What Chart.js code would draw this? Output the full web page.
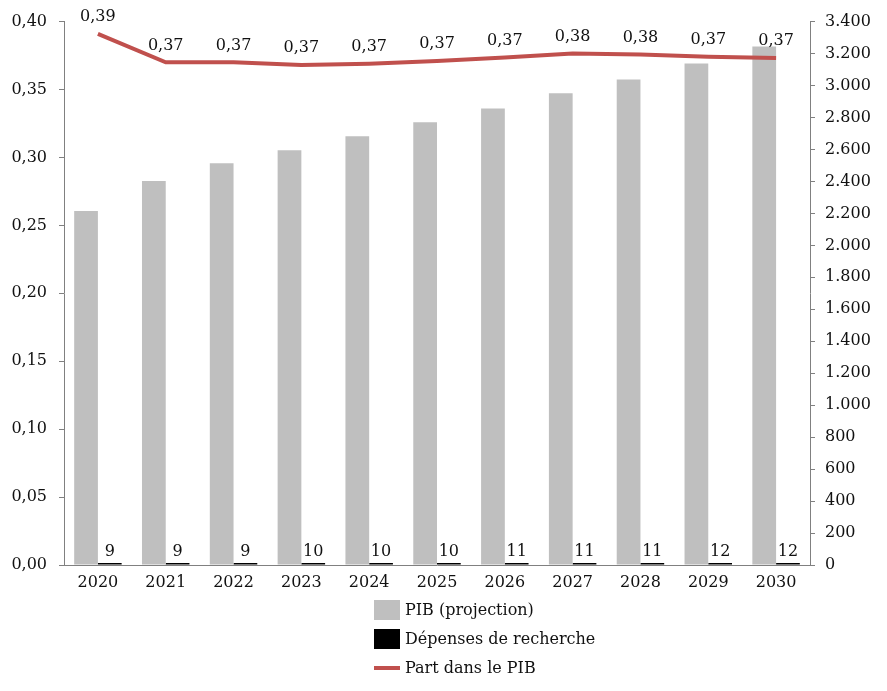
<!DOCTYPE html>
<html>
<head>
<meta charset="utf-8">
<script src="https://cdn.jsdelivr.net/npm/chart.js@4"></script>
<style>
  body { margin:0; background:#fff; }
  #wrap { position:relative; width:887px; height:691px; }
  .leg { position:absolute; left:374px; font-family:"DejaVu Serif", serif; font-size:16px; color:#111; height:20px; line-height:20px; }
  .leg span.box { position:absolute; left:0; top:0; width:26px; height:20px; }
  .leg span.txt { position:absolute; left:31px; top:0; white-space:nowrap; }
</style>
</head>
<body>
<div id="wrap">
  <canvas id="myChart" width="887" height="691"></canvas>
  <div class="leg" style="top:600px"><span class="box" style="background:#bfbfbf"></span><span class="txt">PIB (projection)</span></div>
  <div class="leg" style="top:629px"><span class="box" style="background:#000"></span><span class="txt">Dépenses de recherche</span></div>
  <div class="leg" style="top:658px"><span class="box" style="top:8px;height:4px;background:#c0504d"></span><span class="txt">Part dans le PIB</span></div>
</div>
<script>
// data
const years=['2020','2021','2022','2023','2024','2025','2026','2027','2028','2029','2030'];
const pib=[2215,2402,2514,2595,2683,2770,2857,2951,3038,3138,3244];
const recherche=[9,9,9,10,10,10,11,11,11,12,12];
const part=[0.391,0.370,0.370,0.368,0.369,0.371,0.3735,0.3765,0.3758,0.3742,0.3732];

const fontFam='"DejaVu Serif", serif';

// number formats
function fr2(v){ return v.toFixed(2).replace('.',','); }
function thousands(v){ return String(v).replace(/\B(?=(\d{3})+(?!\d))/g,'.'); }

// labels above black bars and the line
const labelPlugin={
  id:'labels',
  afterDatasetsDraw(chart){
    const ctx=chart.ctx;
    ctx.save();
    ctx.font='16px '+fontFam;
    ctx.fillStyle='#111';
    ctx.textAlign='center';
    ctx.textBaseline='bottom';
    chart.getDatasetMeta(1).data.forEach((el,i)=>{
      ctx.fillText(recherche[i],el.x,el.y-3);
    });
    chart.getDatasetMeta(2).data.forEach((el,i)=>{
      ctx.fillText(fr2(part[i]),el.x,el.y-9);
    });
    ctx.restore();
  }
};

const axisColor='#808080';
var ctx=document.getElementById('myChart').getContext('2d');
var chart=new Chart(ctx,{
  type:'bar',
  data:{
    labels:years,
    datasets:[
      {label:'PIB (projection)',data:pib,backgroundColor:'#bfbfbf',yAxisID:'y1',order:1,categoryPercentage:0.7,barPercentage:1.0},
      {label:'Dépenses de recherche',data:recherche,backgroundColor:'#000',yAxisID:'y1',order:2,categoryPercentage:0.7,barPercentage:1.0,minBarLength:2},
      {label:'Part dans le PIB',type:'line',data:part,borderColor:'#c0504d',borderWidth:4,pointRadius:0,tension:0,yAxisID:'y',order:0}
    ]
  },
  options:{
    responsive:false,
    animation:false,
    layout:{padding:{top:12,bottom:96,left:0,right:0}},
    plugins:{legend:{display:false},tooltip:{enabled:false}},
    scales:{
      x:{
        grid:{display:true,drawOnChartArea:false,drawTicks:false,color:axisColor},
        border:{color:axisColor},
        ticks:{font:{family:fontFam,size:16},color:'#111',padding:8},
        afterFit(s){ s.height=30; }
      },
      y:{
        position:'left',min:0,max:0.4,
        grid:{drawOnChartArea:false,tickLength:5,color:axisColor},
        border:{color:axisColor},
        ticks:{stepSize:0.05,font:{family:fontFam,size:16},color:'#111',padding:12,callback:v=>fr2(v)},
        afterFit(s){ s.width=64; }
      },
      y1:{
        position:'right',min:0,max:3400,
        grid:{drawOnChartArea:false,tickLength:5,color:axisColor},
        border:{color:axisColor},
        ticks:{stepSize:200,font:{family:fontFam,size:16},color:'#111',padding:10,callback:v=>thousands(v)},
        afterFit(s){ s.width=77; }
      }
    }
  },
  plugins:[labelPlugin]
});
</script>
</body>
</html>
